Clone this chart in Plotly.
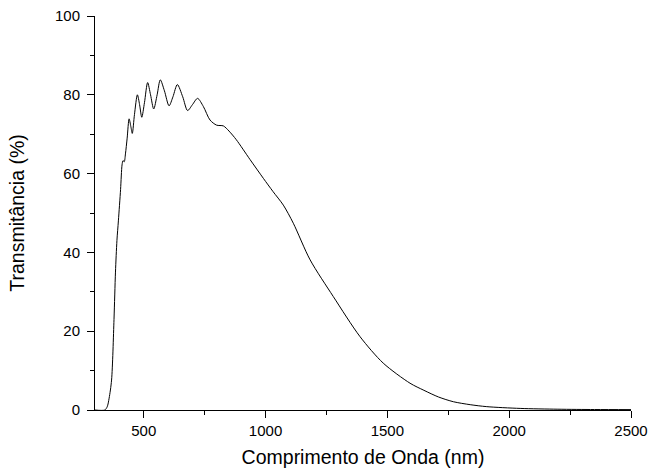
import plotly.graph_objects as go

# wavelength (nm) and transmittance (%)
wavelength = [300, 340, 350, 358, 368, 378, 384, 390, 396, 405, 411, 415, 420, 425,
              432, 440, 447, 453, 462, 474, 483, 492, 503, 516, 528, 541, 555, 568,
              585, 604, 620, 638, 660, 680, 700, 721, 745, 772, 799, 827, 850, 880,
              936, 991, 1030, 1073, 1114, 1183, 1278, 1388, 1483, 1593, 1650, 1710, 1771,
              1840, 1908, 2045, 2200, 2350, 2500]
transmittance = [0, 0, 0.8, 3, 7.6, 23, 35, 43, 48, 56, 62.2, 63.3, 63, 65,
                 69, 73.9, 72, 70.2, 75, 80, 77.5, 74.3, 78, 83.1, 80, 76.4, 80, 83.8,
                 81, 77.2, 79.5, 82.6, 79.5, 76, 77.5, 79.1, 77, 73.6, 72.3, 72.1, 70.8, 68.6,
                 63.6, 58.8, 55.5, 52, 47.4, 38.1, 28.8, 18.6, 11.9, 6.8, 5.0, 3.3, 2.1,
                 1.35, 0.85, 0.4, 0.2, 0.12, 0.1]

font_name = "Liberation Sans, Arial, sans-serif"

fig = go.Figure()
fig.add_trace(go.Scatter(
    x=wavelength, y=transmittance, mode="lines",
    line=dict(color="black", width=1, shape="spline", smoothing=0.8),
    showlegend=False, hoverinfo="skip",
))

axis_style = dict(
    showline=True, linecolor="black", linewidth=1,
    ticks="outside", ticklen=7, tickcolor="black", tickwidth=1,
    showgrid=False, zeroline=False, automargin=False,
    ticklabeloverflow="allow",
    tickfont=dict(family=font_name, size=15, color="black"),
)

fig.update_xaxes(
    range=[300, 2500], tickmode="linear", tick0=500, dtick=500,
    minor=dict(ticks="outside", ticklen=4, tickcolor="black", dtick=250, tick0=250, showgrid=False),
    title=dict(text="Comprimento de Onda (nm)", font=dict(family=font_name, size=19.5, color="black"), standoff=12),
    **axis_style,
)
fig.update_yaxes(
    range=[0, 100], tickmode="linear", tick0=0, dtick=20,
    minor=dict(ticks="outside", ticklen=4, tickcolor="black", dtick=10, showgrid=False),
    title=dict(text="Transmitância (%)", font=dict(family=font_name, size=19.5, color="black"), standoff=25),
    ticklabelstandoff=4,
    **axis_style,
)

fig.update_layout(
    width=648, height=473,
    margin=dict(l=95, r=17, t=16, b=63),
    plot_bgcolor="white", paper_bgcolor="white",
)

# drop the default 8px body margin so the figure fills the window
fig.write_html("out.html", config={"displayModeBar": False},
               post_script="document.body.style.margin='0';document.body.style.overflow='hidden';")
